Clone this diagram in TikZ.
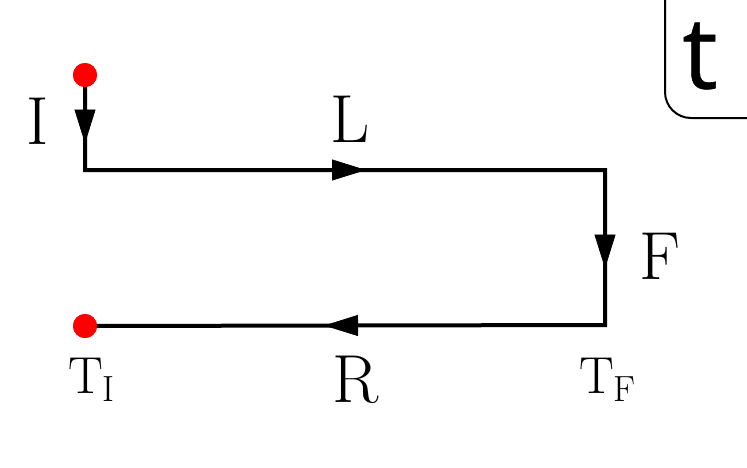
\documentclass[tikz,border=0pt]{standalone}
\usepackage{fontspec}
\usepackage{tikz}
\usetikzlibrary{arrows.meta}
\usetikzlibrary{decorations.markings}
\usetikzlibrary{positioning}
\newfontfamily\tagfont[FakeBold=0.6]{Open Sans}

\tikzset{
  wire/.style={line width=2pt, line join=miter},
  midarrow/.style={postaction={decorate}, decoration={markings,
    mark=at position 0.5 with {\arrow[xshift=10.5pt]{Triangle[length=17pt, width=10.5pt]}}}},
  enddot/.style={circle, fill=red, inner sep=0pt, minimum size=12pt},
  lbl/.style={font=\fontsize{34}{38}\selectfont, inner sep=0pt},
  tlbl/.style={font=\fontsize{26}{29}\selectfont, inner sep=0pt}
}

\begin{document}
\begin{tikzpicture}[x=0.5pt, y=-0.5pt]
  \useasboundingbox (0,0) rectangle (747,467);

  % path points
  \node[enddot] (start) at (85,75) {};
  \coordinate (c1) at (85,170);
  \coordinate (c2) at (605,170);
  \coordinate (c3) at (605,325);
  \node[enddot] (end) at (85,326) {};

  \draw[wire] (start.center) -- (c1) -- (c2) -- (c3) -- (end.center);
  \path[midarrow] (start.center) -- (c1);
  \path[midarrow] (c1) -- (c2);
  \path[midarrow] (c2) -- (c3);
  \path[midarrow] (c3) -- (end.center);
  \node[enddot] at (start) {};
  \node[enddot] at (end) {};

  % labels
  \node[lbl] (lblI) at (38,121) {$\mathrm{I}$};
  \node[lbl] (lblL) at (350,119) {$\mathrm{L}$};
  \node[lbl] (lblF) at (660,256) {$\mathrm{F}$};
  \node[lbl] (lblR) at (356,380) {$\mathrm{R}$};
  \node[tlbl] (lblTI) at (92,380) {$\mathrm{T}_{\mathrm{I}}$};
  \node[tlbl] (lblTF) at (608,380) {$\mathrm{T}_{\mathrm{F}}$};

  % tag box
  \draw[line width=1pt, rounded corners=13pt] (665,-5) -- (665,118) -- (752,118);
  \node[font=\tagfont\fontsize{50}{55}\selectfont, inner sep=0pt] (tag) at (700,56) {t};
\end{tikzpicture}
\end{document}
